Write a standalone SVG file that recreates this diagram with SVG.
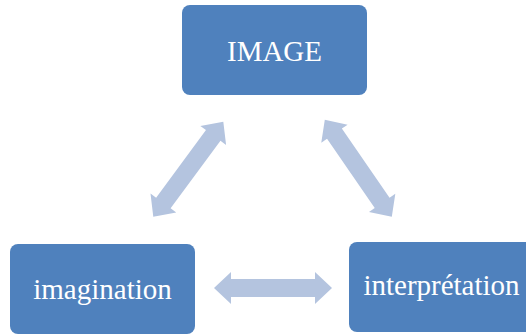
<svg xmlns="http://www.w3.org/2000/svg" xmlns:xlink="http://www.w3.org/1999/xlink" width="526" height="335" viewBox="0 0 526 335">
<style>
.box{fill:#4F81BD;}
.lbl{fill:#FFFFFF;font-family:"Liberation Serif","Times New Roman",serif;font-size:29px;text-anchor:middle;}
.arr{fill:#B4C4DF;}
</style>
<defs>
<path id="dblarrow" d="M-59,0 L-42,-16 L-42,-9 L42,-9 L42,-16 L59,0 L42,16 L42,9 L-42,9 L-42,16 Z"/>
</defs>
<rect width="526" height="335" fill="#FFFFFF"/>
<g id="connectors">
<use xlink:href="#dblarrow" class="arr" transform="translate(188.3,169.2) rotate(-53.6)"/>
<use xlink:href="#dblarrow" class="arr" transform="translate(358.3,168.3) rotate(55.4)"/>
<use xlink:href="#dblarrow" class="arr" transform="translate(273,288)"/>
</g>
<g id="node-image">
<rect class="box" x="182" y="5" width="185" height="90" rx="8"/>
<text class="lbl" x="274.5" y="61">IMAGE</text>
</g>
<g id="node-imagination">
<rect class="box" x="10" y="244" width="185" height="90" rx="8"/>
<text class="lbl" x="102.5" y="299">imagination</text>
</g>
<g id="node-interpretation">
<rect class="box" x="349" y="242" width="185" height="90" rx="8"/>
<text class="lbl" x="441.5" y="295">interprétation</text>
</g>
</svg>
